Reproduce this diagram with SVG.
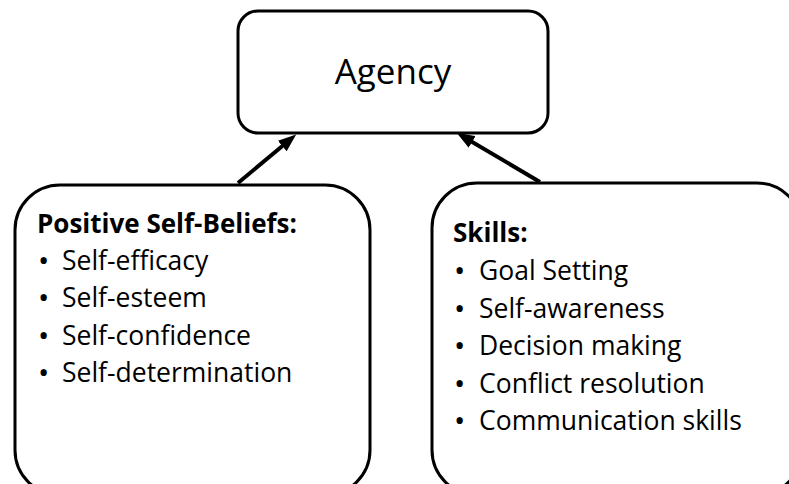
<svg xmlns="http://www.w3.org/2000/svg" width="789" height="484" viewBox="0 0 789 484">
  <style>
    .box { fill: #ffffff; stroke: #000000; stroke-width: 3; }
    .edge { stroke: #000000; stroke-width: 4; fill: none; }
    .t { font-family: "Open Sans", "Liberation Sans", sans-serif; fill: #000000; }
    .title { font-size: 35px; }
    .item { font-size: 26.5px; }
    .bullet { font-size: 30px; }
    .head { font-size: 26px; font-weight: bold; }
  </style>
  <defs>
    <marker id="arrow" markerWidth="4.5" markerHeight="3.4" refX="1.2" refY="1.7" orient="auto" markerUnits="strokeWidth">
      <path d="M0,0 L4.5,1.7 L0,3.4 Z" fill="#000000"/>
    </marker>
  </defs>

  <rect width="789" height="484" fill="#ffffff"/>

  <g id="connectors">
    <line class="edge" x1="238" y1="183" x2="286" y2="143" marker-end="url(#arrow)"/>
    <line class="edge" x1="540" y1="182" x2="468" y2="139.5" marker-end="url(#arrow)"/>
  </g>

  <g id="agency">
    <rect class="box" x="238" y="11" width="310" height="122" rx="20" ry="20"/>
    <text class="t title" x="393" y="84" text-anchor="middle">Agency</text>
  </g>

  <g id="self-beliefs">
    <rect class="box" x="15" y="185" width="355" height="310" rx="45" ry="45"/>
    <text class="t head" x="37" y="233">Positive Self-Beliefs:</text>
    <text class="t bullet" x="38" y="271">•</text><text class="t item" x="62" y="270">Self-efficacy</text>
    <text class="t bullet" x="38" y="308">•</text><text class="t item" x="62" y="307">Self-esteem</text>
    <text class="t bullet" x="38" y="346">•</text><text class="t item" x="62" y="345">Self-confidence</text>
    <text class="t bullet" x="38" y="383">•</text><text class="t item" x="62" y="382">Self-determination</text>
  </g>

  <g id="skills">
    <rect class="box" x="432" y="183" width="370" height="312" rx="45" ry="45"/>
    <text class="t head" x="453" y="242">Skills:</text>
    <text class="t bullet" x="454" y="281">•</text><text class="t item" x="479" y="280">Goal Setting</text>
    <text class="t bullet" x="454" y="319">•</text><text class="t item" x="479" y="318">Self-awareness</text>
    <text class="t bullet" x="454" y="356">•</text><text class="t item" x="479" y="355">Decision making</text>
    <text class="t bullet" x="454" y="394">•</text><text class="t item" x="479" y="393">Conflict resolution</text>
    <text class="t bullet" x="454" y="431">•</text><text class="t item" x="479" y="430">Communication skills</text>
  </g>
</svg>
